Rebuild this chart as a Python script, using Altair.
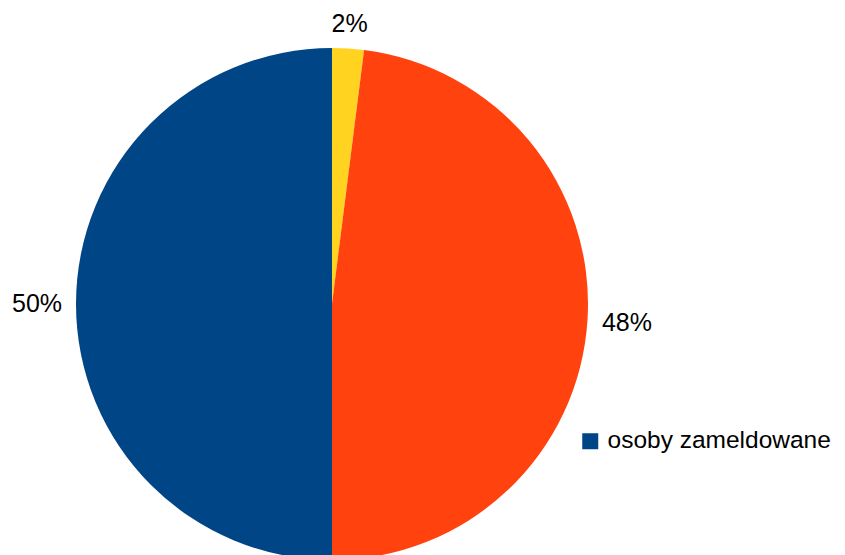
import altair as alt
import pandas as pd

categories = ["pozostałe", "osoby wymeldowane", "osoby zameldowane"]
values = [2, 48, 50]
labels = ["2%", "48%", "50%"]
colors = ["#ffd320", "#ff420e", "#004586"]

df = pd.DataFrame({"cat": categories, "value": values, "label": labels, "idx": [0, 1, 2]})

CX, CY = 324, 296

pie = alt.Chart(df).mark_arc(outerRadius=256, stroke=None).encode(
    theta=alt.Theta("value:Q", stack=True),
    order=alt.Order("idx:O"),
    x=alt.value(CX),
    y=alt.value(CY),
    color=alt.Color(
        "cat:N",
        scale=alt.Scale(domain=categories, range=colors),
        legend=alt.Legend(
            values=["osoby zameldowane"],
            title=None,
            orient="none",
            legendX=570,
            legendY=421,
            symbolType="square",
            symbolSize=256,
            symbolStrokeWidth=0,
            labelFontSize=24.5,
            labelFont="Liberation Sans",
            labelColor="#000000",
            labelOffset=5,
            labelLimit=0,
        ),
    ),
)

text = (
    alt.Chart(df)
    .transform_joinaggregate(total="sum(value)")
    .transform_window(cum="sum(value)", sort=[alt.SortField("idx")], frame=[None, 0])
    .transform_calculate(
        mid="(datum.cum - datum.value / 2) / datum.total * 2 * PI",
        r="270 + 9.5 * abs(cos(datum.mid)) + 25 * abs(sin(datum.mid))",
        px=f"{CX} + datum.r * sin(datum.mid)",
        py=f"{CY} - datum.r * cos(datum.mid)",
    )
    .mark_text(fontSize=25, font="Liberation Sans", color="#000000")
    .encode(
        text="label:N",
        x=alt.X("px:Q", scale=None),
        y=alt.Y("py:Q", scale=None),
    )
)

chart = (
    (pie + text)
    .properties(width=829, height=560, padding=0, autosize=alt.AutoSizeParams(type="none"))
    .configure_view(stroke=None)
)

chart.save("out.html", embed_options={"renderer": "svg", "actions": False})
